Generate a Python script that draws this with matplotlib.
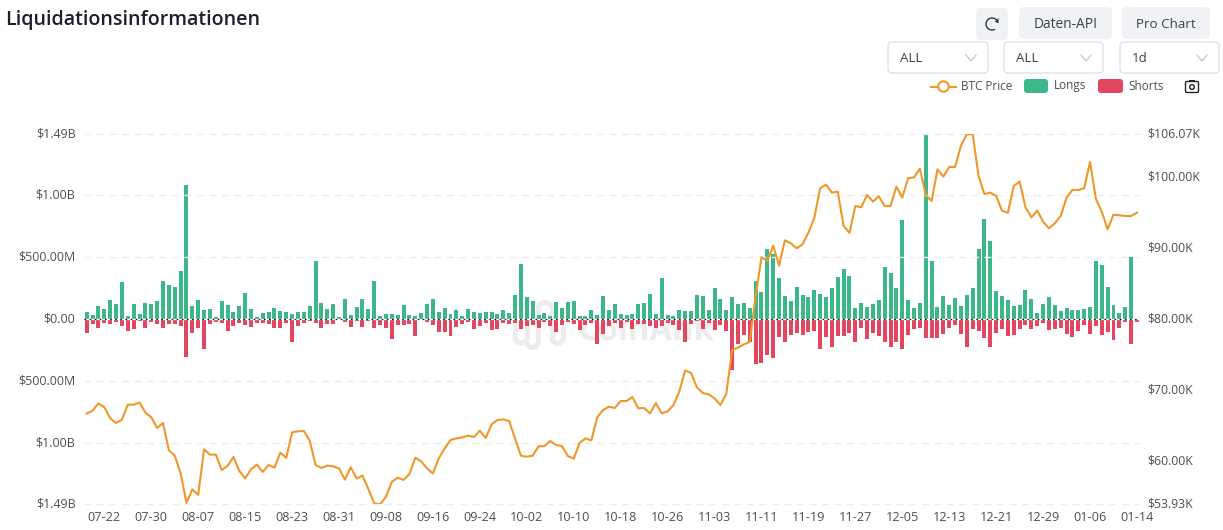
import numpy as np
import pandas as pd
import matplotlib
matplotlib.use("Agg")
import matplotlib.pyplot as plt
from matplotlib.patches import FancyBboxPatch, Circle, Arc, Polygon, Rectangle

plt.rcParams['font.family'] = ['Open Sans', 'Noto Sans', 'DejaVu Sans']

dates = pd.date_range('2024-07-19', periods=180)

longs_m = [62,35,108,83,153,124,304,27,124,43,129,126,145,309,277,258,385,1079,105,159,73,83,22,145,113,59,108,215,81,16,51,62,94,65,59,43,62,62,108,471,129,86,121,22,161,38,100,161,86,307,27,43,40,32,116,35,27,48,124,
161,59,91,46,75,27,86,59,51,62,62,43,73,51,196,447,180,145,38,48,24,140,89,140,148,24,30,73,38,188,75,124,43,32,40,124,132,202,46,336,32,27,75,67,70,194,186,75,256,161,75,180,124,129,94,309,221,565,
527,334,191,145,261,199,183,237,207,183,256,344,406,352,89,132,100,121,153,422,374,253,799,159,89,135,1490,471,97,188,116,175,108,196,253,568,810,632,229,186,156,108,116,237,164,51,124,180,113,67,91,75,75,83,100,471,436,261,116,51,97,503,3]

shorts_m = [108,40,70,27,35,24,51,97,75,13,67,19,35,70,35,38,51,307,110,70,239,35,19,32,97,51,32,46,59,30,32,38,67,67,30,186,54,27,13,27,70,35,35,5,19,65,16,65,16,70,48,73,159,48,43,40,137,8,19,
46,100,100,135,65,35,24,75,56,27,89,75,30,40,27,75,54,43,73,19,51,100,48,22,35,89,46,32,196,116,51,30,67,22,75,38,35,54,67,54,30,43,89,180,35,16,78,27,83,43,91,412,196,126,
180,363,352,288,315,143,186,126,108,129,102,94,242,145,221,135,132,108,180,73,156,113,132,186,221,183,242,126,78,67,151,151,148,116,73,46,116,221,78,91,151,221,110,78,135,126,81,43,75,56,27,89,78,70,116,145,91,43,121,54,126,102,164,67,24,196,19]

price_k = [66.71,67.13,68.16,67.60,66.05,65.39,65.86,67.97,67.97,68.26,66.85,66.19,64.69,65.39,61.54,60.79,58.30,54.12,56.04,55.24,61.68,60.93,60.93,58.77,59.33,60.60,58.63,57.59,58.86,59.52,58.49,59.47,59.10,61.21,60.46,64.07,64.22,64.26,62.90,59.47,59.05,59.38,59.28,59.00,57.41,59.14,57.55,57.97,56.09,54.07,53.93,55.01,57.08,57.69,57.36,58.20,60.50,59.99,59.00,
58.29,60.40,61.81,62.99,63.22,63.36,63.60,63.41,64.30,63.27,65.19,65.81,65.90,65.66,63.22,60.78,60.64,60.78,62.09,62.14,62.85,62.28,62.14,60.73,60.36,62.56,63.22,62.94,66.18,67.21,67.68,67.50,68.48,68.48,69.05,67.45,67.50,66.74,68.20,66.74,67.03,67.92,69.84,72.80,72.43,70.41,69.61,69.42,68.86,67.92,69.47,
75.67,76.00,76.47,76.80,
83.20,88.74,88.22,90.38,87.56,91.13,90.71,90.01,90.57,92.21,94.28,98.46,98.98,97.85,97.99,93.15,92.17,95.97,95.78,97.52,96.58,97.33,95.97,95.97,98.70,97.15,99.87,100.01,101.23,97.47,96.68,101.14,100.11,101.47,101.47,104.47,106.07,106.07,100.20,97.66,97.85,97.38,95.31,94.99,98.79,99.40,95.78,94.37,95.31,93.76,92.82,93.53,94.56,97.15,98.23,98.23,98.46,102.17,96.96,95.17,92.68,94.75,94.66,94.56,94.56,95.03]

left_ticks = [-1490, -1000, -500, 0, 500, 1000, 1490]
left_labels = ['$1.49B', '$1.00B', '$500.00M', '$0.00', '$500.00M', '$1.00B', '$1.49B']
right_ticks = [53.93, 60, 70, 80, 90, 100, 106.07]
right_labels = ['$53.93K', '$60.00K', '$70.00K', '$80.00K', '$90.00K', '$100.00K', '$106.07K']

W, H = 1223, 530
fig = plt.figure(figsize=(W/100, H/100), dpi=100, facecolor='white')
L, R, T, B = 83.8, 1139.9, 134.3, 504.3
ax = fig.add_axes([L/W, 1-B/H, (R-L)/W, (B-T)/H])
ax.patch.set_visible(False)
ax2 = ax.twinx()
ax2.patch.set_visible(False)

# watermark + UI overlay, pixel coordinates
ui = fig.add_axes([0, 0, 1, 1], zorder=-1)
ui.set_xlim(0, W); ui.set_ylim(H, 0); ui.axis('off')

x = np.arange(len(dates))
GREEN, RED, ORANGE = '#3BB78A', '#E5465F', '#F0972B'
TXT = '#4a4f57'

ax.bar(x, longs_m, width=0.68, color=GREEN, zorder=2)
ax.bar(x, -np.array(shorts_m), width=0.68, color=RED, zorder=2)
for t in left_ticks:
    if t != 0:
        ax.axhline(t, color='#ececec', lw=1, dashes=(5, 4), zorder=3, clip_on=False)
ax.axhline(0, color='white', lw=0.9, zorder=3)
ax.axhline(0, color='#111111', lw=0.9, dashes=(1.3, 2.8), zorder=3.1)
ax.set_xlim(-0.5, len(dates)-0.5)
ax.set_ylim(-1490, 1490)
ax.set_yticks(left_ticks, left_labels)
tick_pos = list(range(3, len(dates), 8))
ax.set_xticks(tick_pos, [dates[i].strftime('%m-%d') for i in tick_pos])
ax.tick_params(axis='y', length=0, labelsize=8.9, labelcolor=TXT, pad=6)
ax.tick_params(axis='x', length=0, labelsize=9.1, labelcolor=TXT, pad=5)

ax2.plot(x, price_k, color=ORANGE, lw=1.5, solid_joinstyle='round', zorder=5)
ax2.set_ylim(53.93, 106.07)
ax2.set_yticks(right_ticks, right_labels)
ax2.tick_params(axis='y', length=0, labelsize=8.8, labelcolor=TXT, pad=5.5)
for a in (ax, ax2):
    for s in a.spines.values():
        s.set_visible(False)
    for lab in a.get_yticklabels():
        lab.set_va('center')

# title
ui.text(5, 20, 'Liquidationsinformationen', fontsize=14.1, fontweight='semibold',
        color='#1c1f2b', va='center', ha='left')

def rbox(x0, y0, x1, y1, r, fc, ec='none', lw=0):
    ui.add_patch(FancyBboxPatch((x0+r, y0+r), x1-x0-2*r, y1-y0-2*r,
                                boxstyle=f'round,pad={r},rounding_size={r}',
                                fc=fc, ec=ec, lw=lw))

BTN = '#F0F2F5'
rbox(976, 8, 1008, 40, 5, BTN)
rbox(1019, 7, 1112, 39, 5, BTN)
rbox(1122, 7, 1210, 39, 5, BTN)
ui.text(1065.5, 24, 'Daten-API', fontsize=9.9, color='#3c4149', ha='center', va='center')
ui.text(1166, 24, 'Pro Chart', fontsize=9.6, color='#3c4149', ha='center', va='center')
# refresh icon
ui.add_patch(Arc((992, 24), 12, 12, theta1=-300, theta2=-10, color='#33383f', lw=1.0))
ui.add_patch(Polygon([[998.5, 18], [998.5, 22.5], [994.5, 22]], closed=True, fc='#33383f', ec='none'))

for x0, x1, lab in [(888, 988, 'ALL'), (1004, 1103, 'ALL'), (1120, 1219, '1d')]:
    rbox(x0, 42, x1, 73, 4, 'white', '#DCDFE6', 0.9)
    ui.text(x0+12, 59, lab, fontsize=9.6, color='#3c4149', ha='left', va='center')
    cx = x1-17
    ui.plot([cx-5, cx, cx+5], [55, 61, 55], color='#c0c4cc', lw=0.9)

# legend
ui.plot([931, 956], [86.5, 86.5], color=ORANGE, lw=1.5)
ui.add_patch(Circle((943.5, 86.5), 5.2, fc='white', ec=ORANGE, lw=1.5, zorder=4))
ui.text(961, 86, 'BTC Price', fontsize=8.5, color=TXT, va='center')
rbox(1024, 79, 1048, 93, 3, GREEN)
ui.text(1054, 86, 'Longs', fontsize=8.5, color=TXT, va='center')
rbox(1098, 79, 1123, 93, 3, RED)
ui.text(1128, 86, 'Shorts', fontsize=8.5, color=TXT, va='center')
# camera icon
rbox(1185.5, 81.5, 1198.5, 92.5, 1.5, 'white', '#222222', 1.0)
ui.add_patch(Rectangle((1189, 79.5), 6, 2, fc='#222222', ec='none'))
ui.add_patch(Circle((1192, 87), 2.3, fc='white', ec='#222222', lw=1.0))

# watermark
WM = '#ececec'
ui.text(577, 332, 'CoinAnk', fontsize=23.5, fontweight='bold', color=WM, ha='left', va='center')
for xs, y0, y1 in [(515, 325, 337), (527, 312, 337), (538, 308, 342), (552, 308, 338), (563, 327, 338)]:
    ui.plot([xs, xs], [y0, y1], color=WM, lw=3.6, solid_capstyle='round')
ui.add_patch(Arc((521, 337), 12, 12, theta1=0, theta2=180, color=WM, lw=3.6))
ui.add_patch(Arc((532.5, 342), 11, 11, theta1=0, theta2=180, color=WM, lw=3.6))
ui.add_patch(Arc((545, 308), 14, 11, theta1=180, theta2=360, color=WM, lw=3.6))
ui.add_patch(Arc((557.5, 338), 11, 11, theta1=0, theta2=180, color=WM, lw=3.6))

fig.savefig('out.png', dpi=100, facecolor='white')
